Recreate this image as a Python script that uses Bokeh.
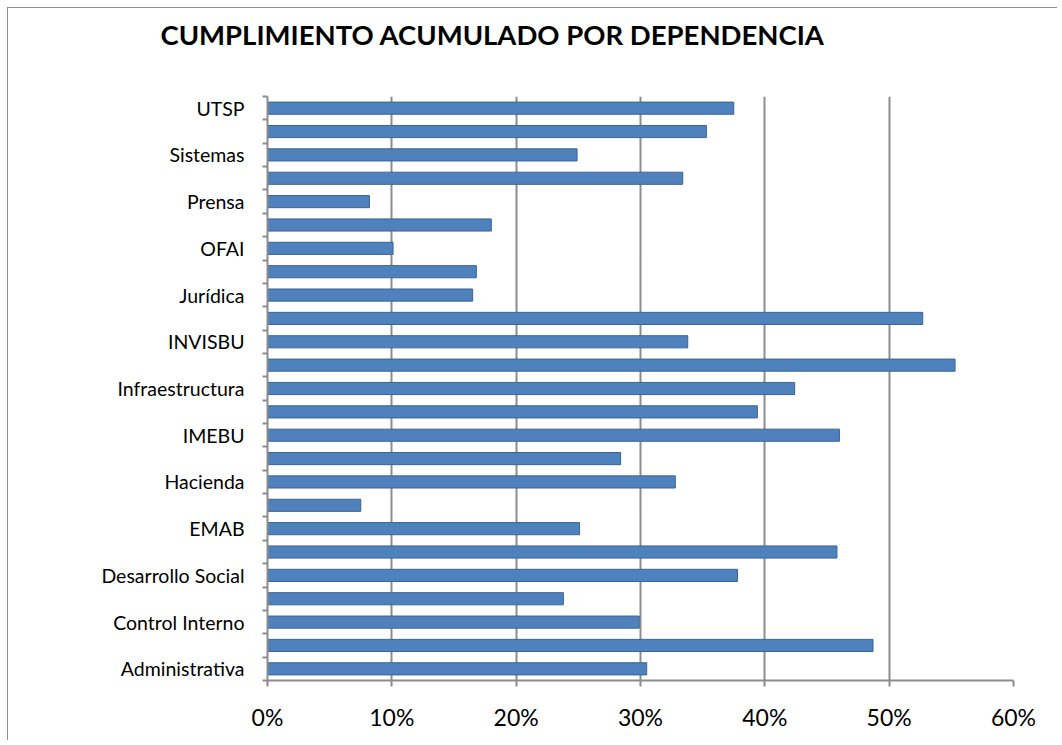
from bokeh.plotting import figure
from bokeh.models import FixedTicker, PrintfTickFormatter, ColumnDataSource, Range1d, LinearAxis, Title
from bokeh.embed import file_html
from bokeh.resources import INLINE

# Data (bottom to top, as drawn)
categories = [
    "Administrativa", "Bomberos", "Control Interno", "Cultura",
    "Desarrollo Social", "Educación", "EMAB", "Gobierno", "Hacienda",
    "IMCT", "IMEBU", "INDERBU", "Infraestructura", "Interventoría",
    "INVISBU", "ISABU", "Jurídica", "Movilidad", "OFAI", "Planeación",
    "Prensa", "Salud", "Sistemas", "Tránsito", "UTSP",
]
values = [
    30.5, 48.7, 29.9, 23.8,
    37.8, 45.8, 25.1, 7.5, 32.8,
    28.4, 46.0, 39.4, 42.4, 55.3,
    33.8, 52.7, 16.5, 16.8, 10.1, 18.0,
    8.2, 33.4, 24.9, 35.3, 37.5,
]
x_ticks = [0, 10, 20, 30, 40, 50, 60]
title_text = "CUMPLIMIENTO ACUMULADO POR DEPENDENCIA"

n = len(categories)
pos = list(range(n))
label_pos = pos[::2]
overrides = {i: categories[i] for i in label_pos}

W, H = 1050, 733
p = figure(width=W, height=H, output_backend="svg", toolbar_location=None,
           title=None,
           x_range=Range1d(0, 60), y_range=Range1d(-0.5, n - 0.5),
           min_border_left=259, min_border_right=45, min_border_top=88,
           min_border_bottom=61,
           styles={"margin-left": "7px", "margin-top": "7px",
                   "border-left": "1px solid #8e8e8e", "border-top": "1px solid #8e8e8e"})
p.outline_line_color = None
p.background_fill_color = "white"
p.border_fill_color = "white"

# empty spacer between the title and the plot area
spacer = LinearAxis(ticker=FixedTicker(ticks=[30]), major_label_overrides={30: ""},
                    axis_line_color=None, major_tick_line_color=None,
                    minor_tick_line_color=None, major_tick_out=41, major_tick_in=0,
                    major_label_standoff=0)
p.add_layout(spacer, "above")

title = Title(text=title_text, align="left", offset=-107, standoff=10,
              text_font="Lato", text_font_style="bold", text_font_size="27.5px",
              text_color="black")
p.add_layout(title, "above")

src = ColumnDataSource(dict(y=pos, v=values, name=categories))
p.hbar(y="y", right="v", left=0, height=0.52, source=src,
       fill_color="#4F81BD", line_color="#3A6593", line_width=1)

# X axis
xa = p.below[0]
xa.ticker = FixedTicker(ticks=x_ticks)
xa.formatter = PrintfTickFormatter(format="%d%%")
xa.axis_line_color = "#8c8c8c"
xa.axis_line_width = 2
xa.major_tick_line_color = "#8c8c8c"
xa.major_tick_line_width = 2
xa.major_tick_out = 6
xa.major_tick_in = 0
xa.minor_tick_line_color = None
xa.major_label_text_font = "Lato"
xa.major_label_text_font_size = "23px"
xa.major_label_text_color = "black"
xa.major_label_standoff = 16

# Y axis
ya = p.left[0]
ya.ticker = FixedTicker(ticks=label_pos, minor_ticks=[i - 0.5 for i in range(n + 1)])
ya.major_label_overrides = overrides
ya.axis_line_color = "#8c8c8c"
ya.axis_line_width = 2
ya.major_tick_line_color = None
ya.major_tick_out = 0
ya.major_tick_in = 0
ya.minor_tick_line_color = "#8c8c8c"
ya.minor_tick_line_width = 2
ya.minor_tick_out = 5
ya.minor_tick_in = 0
ya.major_label_text_font = "Lato"
ya.major_label_text_font_size = "19.5px"
ya.major_label_text_color = "black"
ya.major_label_standoff = 18

# Grid
p.xgrid.grid_line_color = "#8c8c8c"
p.xgrid.grid_line_width = 2
p.ygrid.grid_line_color = None

open("out.html", "w").write(file_html(p, INLINE))
